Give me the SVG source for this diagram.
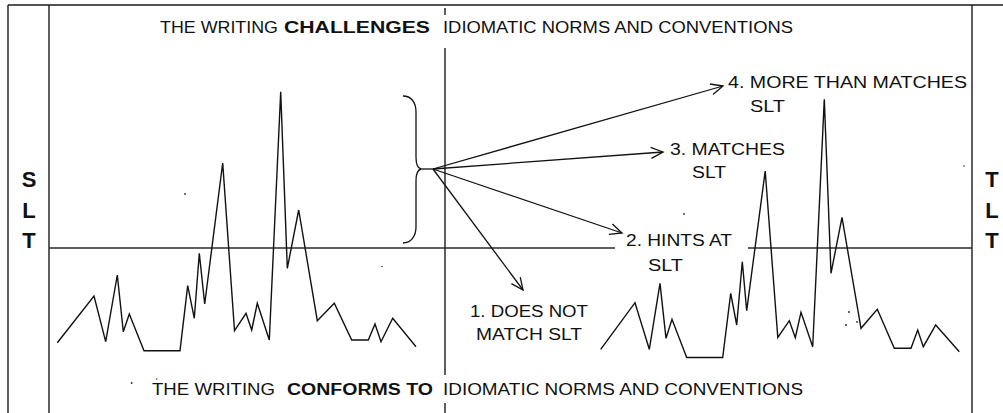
<svg xmlns="http://www.w3.org/2000/svg" width="1003" height="413" viewBox="0 0 1003 413">
<style>
  .frame { stroke: #1a1a1a; stroke-width: 1.4; fill: none; }
  .axis { stroke: #2a2a2a; stroke-width: 1.6; fill: none; }
  .graph { stroke: #111; stroke-width: 1.4; fill: none; stroke-linejoin: miter; }
  .conn { stroke: #111; stroke-width: 1.3; fill: none; }
  .txt { font-family: "Liberation Sans", Arial, sans-serif; font-size: 16px; fill: #111; }
  .b { font-weight: bold; }
  .big { font-family: "Liberation Sans", Arial, sans-serif; font-size: 22px; font-weight: bold; fill: #111; text-anchor: middle; }
  .speck { fill: #333; }
</style>
<defs>
  <marker id="arr" markerUnits="userSpaceOnUse" markerWidth="16" markerHeight="14" refX="13" refY="7" orient="auto">
    <path d="M1,1.5 L13,7 L1,12.5" fill="none" stroke="#111" stroke-width="1.3"/>
  </marker>
</defs>

<g id="frame">
  <line class="frame" x1="8" y1="5" x2="1003" y2="5"/>
  <line class="frame" x1="8" y1="5" x2="8" y2="413"/>
  <line class="frame" x1="49" y1="5" x2="49" y2="413"/>
  <line class="frame" x1="972" y1="5" x2="972" y2="413"/>
  <line class="frame" x1="445" y1="8" x2="445" y2="15"/>
  <line class="frame" x1="445" y1="48" x2="445" y2="375"/>
  <line class="frame" x1="445" y1="403" x2="445" y2="413"/>
  <line class="axis" x1="49" y1="248" x2="615" y2="248"/>
  <line class="axis" x1="748" y1="248" x2="972" y2="248"/>
</g>

<g id="title-top">
  <text class="txt" x="160" y="33" textLength="118" lengthAdjust="spacingAndGlyphs">THE WRITING</text>
  <text class="txt b" x="284" y="33" textLength="146" lengthAdjust="spacingAndGlyphs">CHALLENGES</text>
  <text class="txt" x="443" y="33" textLength="350" lengthAdjust="spacingAndGlyphs">IDIOMATIC NORMS AND CONVENTIONS</text>
</g>
<g id="title-bottom">
  <text class="txt" x="152" y="395" textLength="123" lengthAdjust="spacingAndGlyphs">THE WRITING</text>
  <text class="txt b" x="287" y="395" textLength="146" lengthAdjust="spacingAndGlyphs">CONFORMS TO</text>
  <text class="txt" x="443" y="395" textLength="360" lengthAdjust="spacingAndGlyphs">IDIOMATIC NORMS AND CONVENTIONS</text>
</g>

<g id="label-slt">
  <text class="big" x="29" y="187">S</text>
  <text class="big" x="29" y="218">L</text>
  <text class="big" x="29" y="248">T</text>
</g>
<g id="label-tlt">
  <text class="big" x="992" y="187">T</text>
  <text class="big" x="992" y="218">L</text>
  <text class="big" x="992" y="248">T</text>
</g>

<g id="graph-left">
  <polyline class="graph" points="57.3,342.7 94,296 105.7,341.7 117.3,275 123.3,331.7 129.3,314 144,350.7 180,350.7 187.7,285.7 194.3,318.3 199.3,253.3 204.7,304 222.7,163 234.5,330.7 246,313.3 251.7,330 257.3,303.3 269.3,340 280.7,91.7 287.3,268.3 298.7,210 317.3,320.7 334.3,303.3 351.7,340 368.3,340 375,324 381,341.7 392.7,318.3 416,346.7"/>
</g>

<g id="graph-right">
  <polyline class="graph" points="600.7,349.3 635,302.7 649.3,349.3 660,283.3 666,338.3 672,319.3 686.7,357.5 722.7,357.5 730.7,293.3 736.7,325 742.3,261.7 746.7,310.7 765.2,171 777.8,337.5 789.3,320.7 795.3,337.7 801,312.3 812.7,346.7 824.3,99.3 831,273.3 842,217.3 861,328.3 877.3,309.3 894.3,348.3 911,348.3 917.7,330 923.3,346.7 935.7,325 959.3,351.7"/>
</g>

<g id="brace">
  <path class="conn" d="M403,96 C411,96 416,102 416,112 L416,157 C416,164 417,168 421,169 C417,170 416,174 416,181 L416,227 C416,236 411,243 403,243"/>
  <line class="conn" x1="421" y1="169" x2="433" y2="169"/>
</g>

<g id="connectors">
  <line class="conn" x1="433" y1="169" x2="723" y2="86" marker-end="url(#arr)"/>
  <line class="conn" x1="433" y1="169" x2="663" y2="152" marker-end="url(#arr)"/>
  <line class="conn" x1="433" y1="169" x2="622" y2="233" marker-end="url(#arr)"/>
  <line class="conn" x1="433" y1="169" x2="523" y2="290" marker-end="url(#arr)"/>
</g>

<g id="node-4">
  <text class="txt" x="728" y="88" textLength="239" lengthAdjust="spacingAndGlyphs">4. MORE THAN MATCHES</text>
  <text class="txt" x="750" y="112" textLength="35" lengthAdjust="spacingAndGlyphs">SLT</text>
</g>
<g id="node-3">
  <text class="txt" x="670" y="155" textLength="115" lengthAdjust="spacingAndGlyphs">3. MATCHES</text>
  <text class="txt" x="692" y="178" textLength="34" lengthAdjust="spacingAndGlyphs">SLT</text>
</g>
<g id="node-2">
  <text class="txt" x="626" y="246" textLength="106" lengthAdjust="spacingAndGlyphs">2. HINTS AT</text>
  <text class="txt" x="648" y="271" textLength="35" lengthAdjust="spacingAndGlyphs">SLT</text>
</g>
<g id="node-1">
  <text class="txt" x="470" y="317" textLength="118" lengthAdjust="spacingAndGlyphs">1. DOES NOT</text>
  <text class="txt" x="476" y="340" textLength="106" lengthAdjust="spacingAndGlyphs">MATCH SLT</text>
</g>

<g id="specks">
  <circle class="speck" cx="185" cy="194" r="0.9"/>
  <circle class="speck" cx="684" cy="214" r="0.9"/>
  <circle class="speck" cx="382" cy="266.5" r="0.8"/>
  <circle class="speck" cx="131.7" cy="383" r="0.9"/>
  <circle class="speck" cx="156.7" cy="379" r="0.8"/>
  <circle class="speck" cx="849" cy="312" r="1"/>
  <circle class="speck" cx="846" cy="325" r="1"/>
  <circle class="speck" cx="857" cy="322" r="0.9"/>
  <circle class="speck" cx="964" cy="166" r="0.8"/>
</g>
</svg>
